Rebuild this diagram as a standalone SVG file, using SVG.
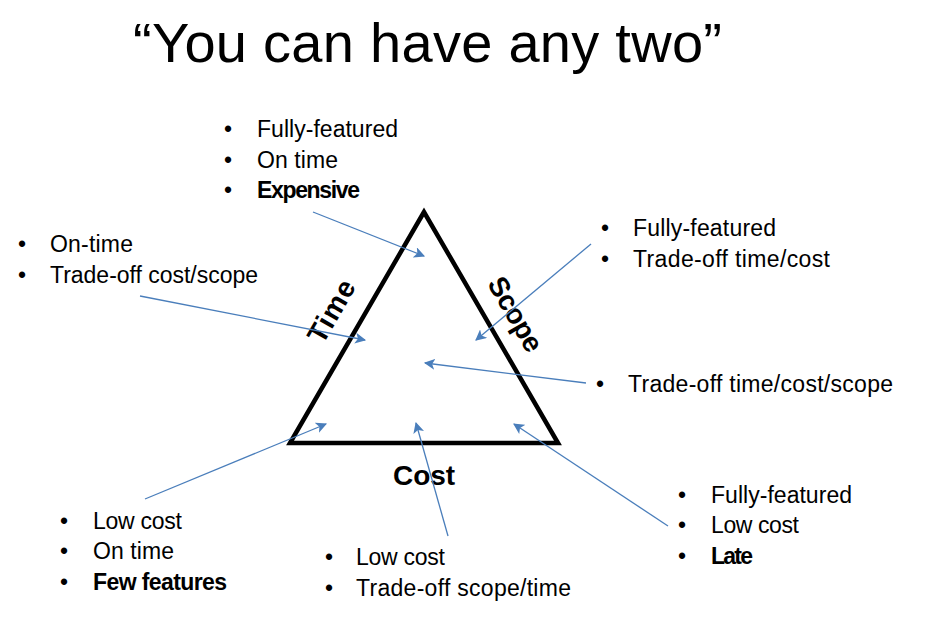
<svg xmlns="http://www.w3.org/2000/svg" width="928" height="621" viewBox="0 0 928 621">
  <style>
    .t { font-family: "Liberation Sans", Arial, sans-serif; font-size: 23px; fill: #000; }
    .b { font-weight: bold; }
    .bul { font-family: "Liberation Sans", Arial, sans-serif; font-size: 23px; fill: #000; text-anchor: middle; }
    .lbl { font-family: "Liberation Sans", Arial, sans-serif; font-size: 28px; font-weight: bold; fill: #000; text-anchor: middle; }
    .title { font-family: "Liberation Sans", Arial, sans-serif; font-size: 56px; fill: #000; }
    .arrow { stroke: #4A7EBB; stroke-width: 1.3; fill: none; marker-end: url(#head); }
  </style>
  <defs>
    <marker id="head" viewBox="0 0 10 10" refX="9" refY="5" markerUnits="userSpaceOnUse" markerWidth="11" markerHeight="11" orient="auto">
      <path d="M0,0 L10,5 L0,10 L2.5,5 Z" fill="#4A7EBB"/>
    </marker>
  </defs>
  <rect width="928" height="621" fill="#fff"/>

  <text class="title" x="133" y="62" textLength="589">“You can have any two”</text>

  <!-- triangle with side labels -->
  <g id="triangle">
    <polygon points="424,212 290,443 558,443" fill="none" stroke="#000" stroke-width="4.5" stroke-linejoin="miter"/>
    <text class="lbl" transform="translate(331,311) rotate(-60)" y="10" textLength="68">Time</text>
    <text class="lbl" transform="translate(516,314) rotate(60)" y="10" textLength="82">Scope</text>
    <text class="lbl" x="424" y="485" textLength="62">Cost</text>
  </g>

  <g id="top-group">
    <text class="bul" x="228" y="137">•</text>
    <text class="bul" x="228" y="168">•</text>
    <text class="bul" x="228" y="198">•</text>
    <text class="t" x="257" y="137" textLength="141">Fully-featured</text>
    <text class="t" x="257" y="168" textLength="81">On time</text>
    <text class="t b" x="257" y="198" textLength="103">Expensive</text>
  </g>

  <g id="left-group">
    <text class="bul" x="22" y="252">•</text>
    <text class="bul" x="22" y="283">•</text>
    <text class="t" x="50" y="252" textLength="83">On-time</text>
    <text class="t" x="50" y="283" textLength="208">Trade-off cost/scope</text>
  </g>

  <g id="right-top-group">
    <text class="bul" x="605" y="236">•</text>
    <text class="bul" x="605" y="267">•</text>
    <text class="t" x="633" y="236" textLength="143">Fully-featured</text>
    <text class="t" x="633" y="267" textLength="197">Trade-off time/cost</text>
  </g>

  <g id="right-mid-group">
    <text class="bul" x="600" y="392">•</text>
    <text class="t" x="628" y="392" textLength="265">Trade-off time/cost/scope</text>
  </g>

  <g id="bottom-left-group">
    <text class="bul" x="64" y="529">•</text>
    <text class="bul" x="64" y="559">•</text>
    <text class="bul" x="64" y="590">•</text>
    <text class="t" x="93" y="529" textLength="89">Low cost</text>
    <text class="t" x="93" y="559" textLength="81">On time</text>
    <text class="t b" x="93" y="590" textLength="134">Few features</text>
  </g>

  <g id="bottom-center-group">
    <text class="bul" x="329" y="565">•</text>
    <text class="bul" x="329" y="596">•</text>
    <text class="t" x="356" y="565" textLength="89">Low cost</text>
    <text class="t" x="356" y="596" textLength="215">Trade-off scope/time</text>
  </g>

  <g id="bottom-right-group">
    <text class="bul" x="682" y="503">•</text>
    <text class="bul" x="682" y="533">•</text>
    <text class="bul" x="682" y="564">•</text>
    <text class="t" x="711" y="503" textLength="141">Fully-featured</text>
    <text class="t" x="711" y="533" textLength="88">Low cost</text>
    <text class="t b" x="711" y="564" textLength="42">Late</text>
  </g>

  <!-- pointers into the triangle -->
  <g id="connectors">
    <line class="arrow" x1="313" y1="212" x2="424" y2="256"/>
    <line class="arrow" x1="140" y1="296" x2="365" y2="340"/>
    <line class="arrow" x1="591" y1="244" x2="476" y2="340"/>
    <line class="arrow" x1="586" y1="383" x2="425" y2="363"/>
    <line class="arrow" x1="145" y1="499" x2="326" y2="424"/>
    <line class="arrow" x1="448" y1="536" x2="416" y2="423"/>
    <line class="arrow" x1="668" y1="526" x2="514" y2="424"/>
  </g>
</svg>
